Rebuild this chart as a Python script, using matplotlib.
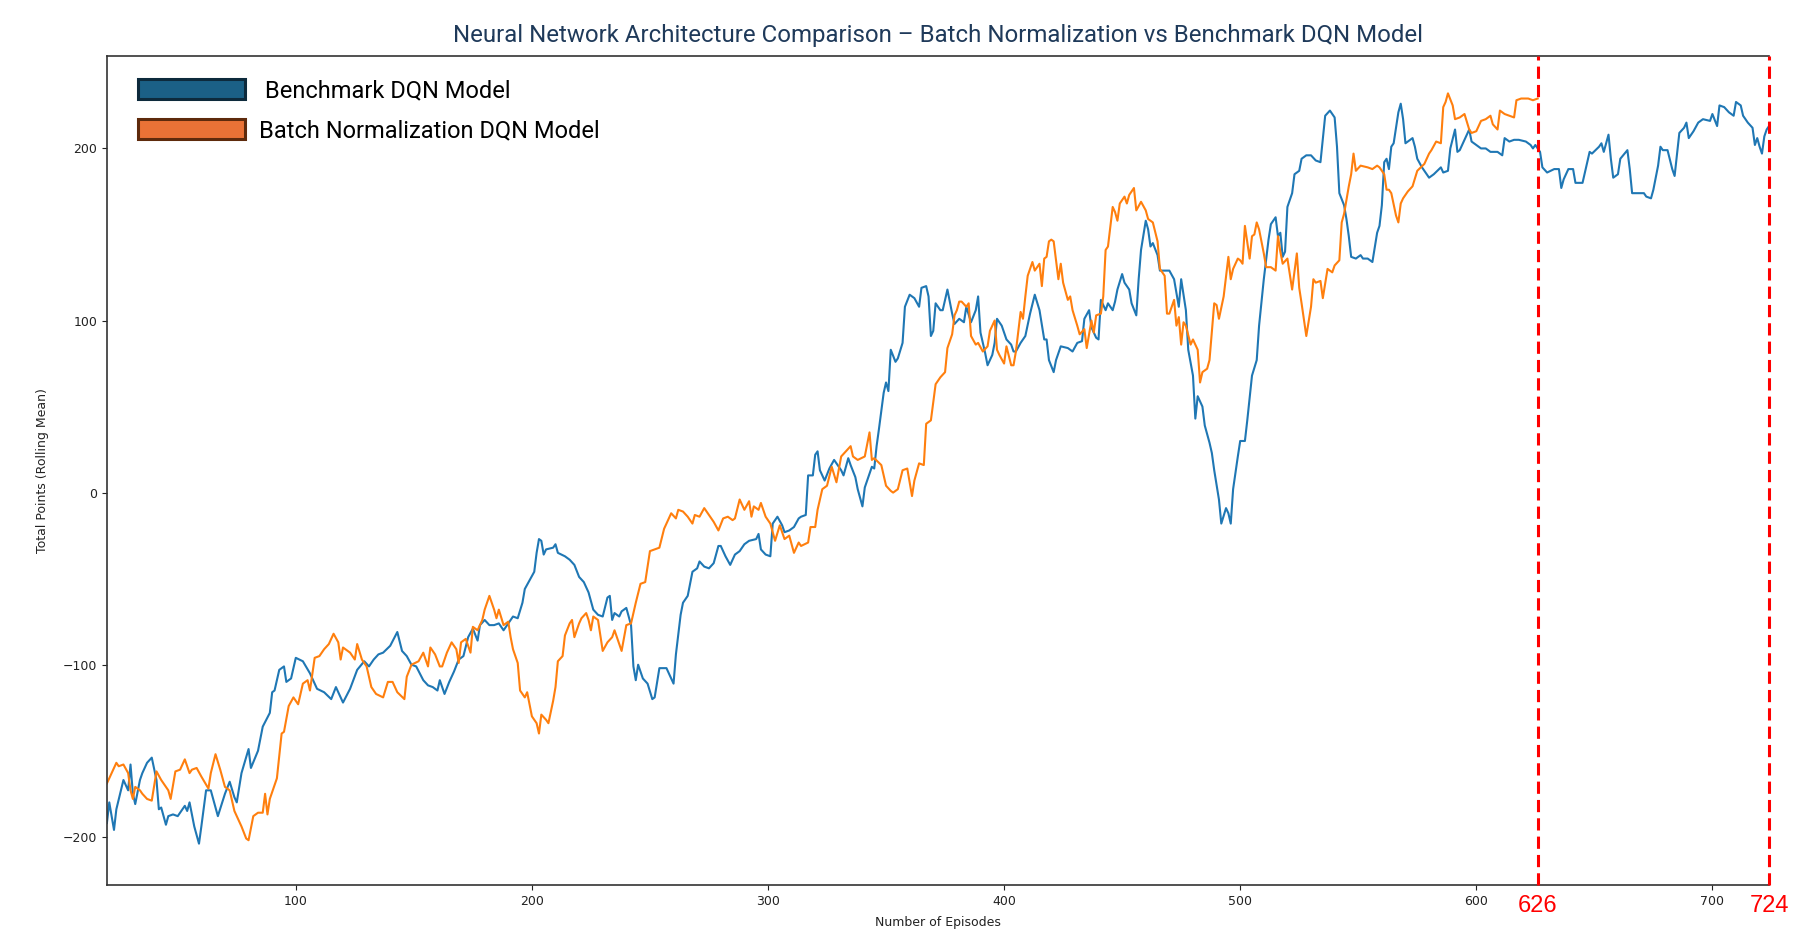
import matplotlib
matplotlib.use("Agg")
import matplotlib.pyplot as plt
from matplotlib.patches import Patch
import matplotlib.transforms as mtransforms

# Rolling-mean points, (episode, points)
benchmark = [
    (20, -192), (21, -180), (23, -196), (24, -184), (27, -167), (29, -173), (30, -158), (31, -175),
    (32, -181), (34, -167), (35, -163), (37, -157), (39, -154), (41, -167), (42, -184), (43, -183),
    (45, -193), (46, -188), (48, -187), (50, -188), (53, -182), (54, -185), (55, -180), (57, -194),
    (59, -204), (60, -194), (62, -173), (64, -173), (65, -178), (67, -188), (70, -175), (72, -168),
    (74, -177), (75, -180), (77, -163), (80, -149), (81, -160), (84, -150), (86, -136), (89, -128),
    (90, -116), (91, -115), (93, -103), (95, -101), (96, -110), (98, -108), (100, -96), (103, -98),
    (106, -105), (109, -114), (112, -116), (115, -120), (117, -113), (120, -122), (123, -114),
    (126, -103), (129, -98), (131, -101), (133, -97), (135, -94), (137, -93), (140, -89), (143, -81),
    (145, -92), (147, -95), (149, -100), (151, -101), (154, -109), (156, -112), (158, -113),
    (160, -115), (161, -109), (163, -117), (165, -110), (167, -104), (169, -97), (171, -95),
    (173, -84), (175, -79), (177, -86), (178, -77), (180, -74), (182, -77), (184, -77), (186, -76),
    (188, -80), (190, -76), (192, -72), (194, -73), (196, -64), (197, -56), (199, -51), (201, -46),
    (202, -35), (203, -27), (204, -28), (205, -36), (206, -33), (209, -32), (210, -30), (211, -35),
    (214, -37), (216, -39), (218, -42), (220, -49), (222, -52), (224, -58), (226, -68), (228, -71),
    (230, -72), (232, -61), (233, -60), (234, -74), (235, -70), (237, -72), (238, -69), (240, -67),
    (242, -77), (243, -101), (244, -109), (245, -100), (247, -108), (249, -111), (251, -120),
    (252, -119), (254, -102), (257, -102), (259, -108), (260, -111), (261, -94), (263, -71),
    (264, -64), (266, -60), (268, -46), (270, -44), (271, -40), (273, -43), (275, -44), (277, -41),
    (279, -31), (280, -31), (282, -37), (284, -42), (286, -36), (288, -34), (290, -30), (292, -28),
    (295, -27), (296, -24), (297, -33), (299, -36), (301, -37), (302, -18), (304, -14), (306, -19),
    (307, -23), (309, -22), (311, -20), (313, -15), (314, -14), (316, -13), (317, 10), (319, 10),
    (320, 22), (321, 24), (322, 13), (324, 7), (326, 14), (328, 19), (329, 17), (331, 13), (332, 10),
    (334, 20), (335, 16), (337, 9), (338, 2), (340, -8), (341, 3), (343, 11), (344, 15), (345, 14),
    (346, 27), (347, 37), (349, 58), (350, 64), (351, 59), (352, 83), (354, 76), (355, 78), (357, 87),
    (358, 108), (360, 115), (362, 113), (364, 108), (365, 119), (367, 120), (368, 114), (369, 91),
    (370, 94), (371, 110), (373, 106), (374, 106), (376, 118), (378, 104), (379, 98), (381, 101),
    (383, 99), (384, 108), (386, 99), (388, 106), (389, 114), (390, 93), (392, 81), (393, 74),
    (395, 80), (396, 87), (397, 101), (399, 97), (400, 93), (401, 89), (403, 86), (404, 82),
    (405, 82), (407, 87), (409, 91), (411, 104), (413, 115), (415, 106), (417, 89), (418, 89),
    (419, 77), (421, 70), (422, 77), (424, 85), (427, 84), (429, 82), (431, 87), (433, 88),
    (434, 101), (436, 106), (437, 96), (439, 90), (440, 89), (441, 112), (443, 106), (444, 110),
    (446, 106), (447, 111), (448, 118), (450, 127), (451, 122), (453, 118), (454, 110), (456, 103),
    (457, 124), (458, 141), (460, 158), (461, 153), (462, 143), (463, 145), (465, 138), (466, 129),
    (468, 129), (470, 129), (472, 124), (474, 108), (475, 124), (477, 106), (478, 83), (480, 68),
    (481, 43), (482, 56), (484, 50), (485, 39), (487, 29), (488, 23), (489, 13), (491, -4),
    (492, -18), (494, -9), (495, -12), (496, -18), (497, 2), (499, 21), (500, 30), (502, 30),
    (503, 42), (505, 68), (507, 77), (508, 97), (510, 124), (512, 147), (513, 156), (515, 160),
    (516, 149), (517, 151), (518, 137), (519, 140), (520, 166), (522, 174), (523, 185), (525, 187),
    (526, 194), (528, 196), (530, 196), (532, 193), (534, 192), (536, 219), (538, 222), (540, 218),
    (541, 201), (542, 174), (544, 167), (545, 159), (546, 149), (547, 137), (549, 136), (551, 138),
    (552, 136), (554, 136), (556, 134), (558, 151), (559, 155), (560, 167), (561, 192), (562, 194),
    (563, 188), (564, 201), (565, 203), (567, 221), (568, 226), (569, 217), (570, 203), (573, 206),
    (574, 201), (575, 194), (577, 189), (580, 183), (582, 185), (585, 189), (586, 186), (588, 187),
    (589, 200), (591, 211), (592, 198), (593, 199), (595, 205), (597, 211), (598, 204), (600, 202),
    (602, 200), (604, 200), (606, 198), (609, 198), (611, 196), (612, 206), (614, 204), (616, 205),
    (618, 205), (621, 204), (623, 202), (624, 200), (625, 202), (627, 198), (628, 189), (630, 186),
    (633, 188), (635, 188), (636, 177), (637, 182), (639, 188), (641, 188), (642, 180), (645, 180),
    (646, 186), (648, 198), (649, 197), (652, 201), (653, 203), (654, 198), (656, 208), (657, 194),
    (658, 183), (660, 185), (661, 194), (664, 199), (665, 188), (666, 174), (669, 174), (671, 174),
    (672, 172), (674, 171), (675, 176), (677, 190), (678, 201), (679, 199), (681, 199), (683, 188),
    (684, 184), (686, 209), (688, 212), (689, 215), (690, 206), (692, 210), (694, 215), (696, 217),
    (699, 216), (700, 220), (702, 213), (703, 225), (705, 224), (707, 221), (709, 219), (710, 227),
    (712, 225), (713, 219), (715, 215), (717, 212), (718, 202), (719, 206), (720, 201), (721, 197),
    (722, 207), (723, 211), (724, 213),
]

batchnorm = [
    (20, -169), (22, -163), (24, -157), (25, -159), (27, -158), (29, -163), (30, -173), (31, -178),
    (32, -171), (34, -173), (35, -175), (37, -178), (39, -179), (41, -162), (43, -167), (46, -173),
    (47, -178), (49, -162), (51, -161), (53, -155), (55, -163), (56, -161), (58, -160), (60, -165),
    (63, -172), (64, -163), (66, -152), (68, -161), (70, -171), (72, -173), (74, -185), (77, -194),
    (79, -201), (80, -202), (82, -188), (84, -186), (86, -186), (87, -175), (88, -187), (89, -178),
    (92, -166), (94, -140), (95, -139), (97, -124), (99, -119), (101, -123), (103, -111), (105, -109),
    (106, -115), (108, -96), (110, -95), (112, -91), (114, -88), (116, -82), (118, -87), (119, -97),
    (120, -90), (123, -93), (125, -97), (126, -88), (128, -97), (130, -101), (132, -113), (134, -117),
    (137, -119), (139, -110), (141, -110), (143, -116), (146, -120), (147, -107), (149, -100),
    (152, -98), (154, -93), (156, -101), (157, -90), (159, -94), (161, -101), (162, -101), (164, -93),
    (166, -87), (168, -91), (169, -99), (170, -87), (172, -85), (174, -93), (175, -78), (177, -80),
    (179, -74), (180, -68), (182, -60), (184, -68), (185, -73), (186, -68), (188, -77), (190, -75),
    (191, -84), (192, -91), (194, -99), (195, -115), (197, -119), (198, -116), (200, -130),
    (202, -134), (203, -140), (204, -129), (206, -132), (207, -134), (209, -121), (210, -113),
    (211, -98), (213, -95), (214, -83), (216, -76), (217, -74), (218, -84), (220, -76), (221, -73),
    (223, -70), (224, -74), (225, -80), (226, -72), (228, -74), (230, -92), (232, -87), (234, -84),
    (235, -80), (238, -92), (240, -77), (242, -76), (244, -64), (246, -53), (248, -52), (250, -34),
    (252, -33), (254, -32), (256, -21), (258, -15), (259, -12), (261, -15), (262, -10), (264, -11),
    (266, -14), (268, -18), (269, -13), (271, -14), (273, -9), (275, -13), (277, -17), (279, -22),
    (281, -15), (283, -14), (285, -16), (286, -15), (288, -4), (290, -10), (292, -5), (293, -14),
    (294, -8), (296, -10), (297, -6), (299, -14), (301, -18), (303, -28), (305, -19), (307, -27),
    (309, -25), (311, -35), (313, -29), (314, -31), (317, -29), (318, -20), (320, -20), (321, -10),
    (323, 2), (325, 4), (327, 15), (329, 6), (331, 21), (333, 24), (335, 27), (336, 21), (338, 19),
    (341, 21), (343, 35), (344, 19), (345, 20), (348, 16), (350, 4), (352, 1), (353, 0), (355, 2),
    (357, 13), (359, 14), (361, -2), (362, 7), (364, 17), (366, 16), (367, 40), (369, 42), (371, 63),
    (373, 67), (375, 70), (376, 84), (378, 92), (379, 103), (380, 106), (381, 111), (382, 111),
    (384, 108), (385, 110), (386, 91), (388, 86), (389, 87), (391, 82), (393, 85), (394, 94),
    (396, 100), (397, 83), (398, 80), (400, 75), (401, 85), (403, 74), (404, 74), (405, 82),
    (407, 105), (408, 101), (409, 114), (410, 126), (412, 134), (413, 129), (415, 133), (416, 120),
    (417, 136), (418, 137), (419, 146), (420, 147), (421, 146), (423, 124), (424, 133), (425, 122),
    (427, 112), (428, 114), (429, 106), (431, 97), (432, 92), (434, 95), (435, 84), (437, 100),
    (438, 93), (439, 103), (441, 104), (442, 114), (443, 141), (444, 143), (446, 166), (447, 163),
    (448, 158), (449, 168), (451, 172), (452, 168), (453, 173), (455, 177), (456, 164), (458, 169),
    (460, 164), (461, 159), (463, 157), (465, 146), (466, 130), (468, 126), (469, 104), (470, 104),
    (472, 112), (473, 97), (474, 102), (475, 86), (476, 99), (477, 97), (479, 86), (480, 89),
    (482, 83), (483, 64), (484, 70), (486, 72), (487, 77), (489, 110), (490, 109), (491, 101),
    (493, 114), (495, 137), (496, 124), (497, 130), (499, 136), (500, 135), (501, 133), (502, 155),
    (504, 136), (505, 149), (506, 150), (507, 157), (508, 153), (510, 139), (511, 131), (513, 131),
    (515, 129), (516, 149), (517, 140), (518, 133), (520, 136), (522, 118), (524, 139), (525, 119),
    (526, 110), (528, 91), (530, 108), (531, 124), (532, 122), (534, 123), (535, 113), (537, 130),
    (539, 128), (540, 132), (542, 135), (543, 157), (544, 162), (546, 178), (547, 185), (548, 197),
    (549, 187), (551, 190), (554, 189), (556, 188), (558, 190), (559, 189), (561, 185), (562, 176),
    (563, 176), (564, 174), (566, 161), (567, 157), (568, 168), (569, 171), (571, 175), (573, 178),
    (575, 187), (578, 191), (580, 197), (581, 199), (583, 204), (585, 203), (586, 224), (587, 227),
    (588, 232), (590, 225), (591, 217), (593, 218), (595, 220), (597, 211), (598, 209), (600, 210),
    (602, 216), (604, 217), (606, 219), (607, 214), (609, 211), (610, 222), (612, 220), (614, 219),
    (616, 218), (617, 228), (619, 229), (622, 229), (624, 228), (626, 229),
]

marker_episodes = [626, 724]
x_ticks = [100, 200, 300, 400, 500, 600, 700]
y_ticks = [-200, -100, 0, 100, 200]

title = "Neural Network Architecture Comparison \u2013 Batch Normalization vs Benchmark DQN Model"
labels = [" Benchmark DQN Model", "Batch Normalization DQN Model"]

fig = plt.figure(figsize=(18.12, 9.52), dpi=100)
ax = fig.add_axes([0.059, 0.0704, 0.9173, 0.8713])

bx, by = zip(*benchmark)
ox, oy = zip(*batchnorm)
ax.plot(bx, by, color="#1f77b4", lw=1.5)
ax.plot(ox, oy, color="#ff7f0e", lw=1.5)

# dashed markers; not clipped so the one on the right edge keeps its full width
for ep in marker_episodes:
    ax.axvline(ep, color="#ff0000", lw=2.2, ls=(0, (4, 2)), zorder=4, clip_on=False)

ax.set_xlim(20, 724)
ax.set_ylim(-228, 254)
ax.set_xticks(x_ticks)
ax.set_yticks(y_ticks)
ax.tick_params(labelsize=9, colors="#222222", length=3.5)
for side in ["left", "bottom", "top"]:
    ax.spines[side].set_color("#333333")
    ax.spines[side].set_linewidth(1.2)
ax.spines["right"].set_visible(False)

ax.set_xlabel("Number of Episodes", fontsize=9, color="#222222", labelpad=6)
ax.set_ylabel("Total Points (Rolling Mean)", fontsize=9, color="#222222", labelpad=10)
ax.set_title(title, fontsize=17.3, color="#1f3a5a", family="Roboto", pad=10)

# red episode numbers under the axis
trans = mtransforms.blended_transform_factory(ax.transData, ax.transAxes)
for ep in marker_episodes:
    ax.text(ep, -0.025, str(ep), transform=trans, color="#ff0000", fontsize=17,
            family="Liberation Sans", ha="center", va="center")

handles = [
    Patch(facecolor="#1b6086", edgecolor="#0d2a3c", lw=2.2),
    Patch(facecolor="#ea7236", edgecolor="#5e2a0c", lw=2.2),
]
ax.legend(handles, labels, loc="upper left", bbox_to_anchor=(0.019, 0.972),
          frameon=False, prop={"family": "Roboto", "size": 17},
          handlelength=4.5, handleheight=0.95, handletextpad=0.6,
          labelspacing=0.72, borderpad=0, borderaxespad=0)

fig.savefig("out.png", dpi=100)
